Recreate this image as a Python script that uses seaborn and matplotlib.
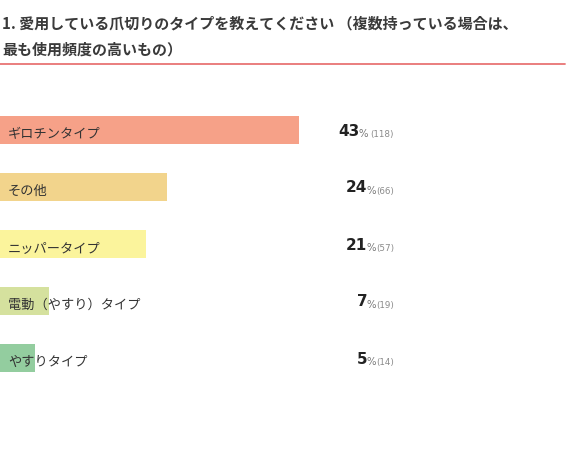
import matplotlib
matplotlib.use("Agg")
import matplotlib.pyplot as plt
import seaborn as sns
import pandas as pd

# data
categories = ["ギロチンタイプ", "その他", "ニッパータイプ", "電動（やすり）タイプ", "やすりタイプ"]
percents = [43, 24, 21, 7, 5]
counts = ["(118)", "(66)", "(57)", "(19)", "(14)"]
colors = ["#F6A188", "#F2D48C", "#FBF49C", "#D5E19E", "#93CD9F"]
title_lines = ["1. 愛用している爪切りのタイプを教えてください （複数持っている場合は、",
               "最も使用頻度の高いもの）"]

sns.set_theme(style="white")
plt.rcParams['font.family'] = ['Noto Sans CJK JP', 'DejaVu Sans']

W, H = 576, 464
fig = plt.figure(figsize=(W / 100, H / 100), dpi=100)
ax = fig.add_axes([0, 0, 1, 1])

df = pd.DataFrame({"cat": categories, "pct": percents})
sns.barplot(data=df, x="pct", y="cat", hue="cat", palette=colors, legend=False,
            width=0.49, ax=ax, saturation=1, linewidth=0)

# map data to pixel layout
px_per_pct = 6.95
ax.set_xlim(0, W / px_per_pct)
y0, step = 131, 57
ax.set_ylim((H - y0) / step, -y0 / step)
ax.axis("off")

def px(x, y):
    return x / W, 1 - y / H

# title and red rule
fig.text(*px(2, 23), title_lines[0], fontsize=10.8, fontweight="bold", color="#3a3a3a", va="center")
fig.text(*px(2, 49), title_lines[1], fontsize=10.8, fontweight="bold", color="#3a3a3a", va="center")
fig.add_artist(plt.Line2D([0, 565 / W], [1 - 65 / H, 1 - 65 / H], color="#E87474", lw=1.3,
                          transform=fig.transFigure))

renderer = fig.canvas.get_renderer()
inv = ax.transData.inverted()

def left_edge(t):
    return inv.transform((t.get_window_extent(renderer).x0, 0))[0]

for i, (cat, p, n) in enumerate(zip(categories, percents, counts)):
    ax.text(8 / px_per_pct, i + 0.06, cat, fontsize=9.5, color="#333333", va="center")
    cnt = ax.text(394 / px_per_pct, i + 0.06, n, fontsize=6.3, color="#8a8a8a",
                  family="DejaVu Sans", ha="right", va="center")
    xl = left_edge(cnt) - (0.35 if i == 0 else 0.0)
    pc = ax.text(xl, i + 0.06, "%", fontsize=7.3, color="#777777",
                 family="DejaVu Sans", ha="right", va="center")
    ax.text(left_edge(pc) + 0.1, i, str(p), fontsize=11, fontweight="bold", color="#222222",
            family="DejaVu Sans", ha="right", va="center")

fig.savefig("out.png", dpi=100)
